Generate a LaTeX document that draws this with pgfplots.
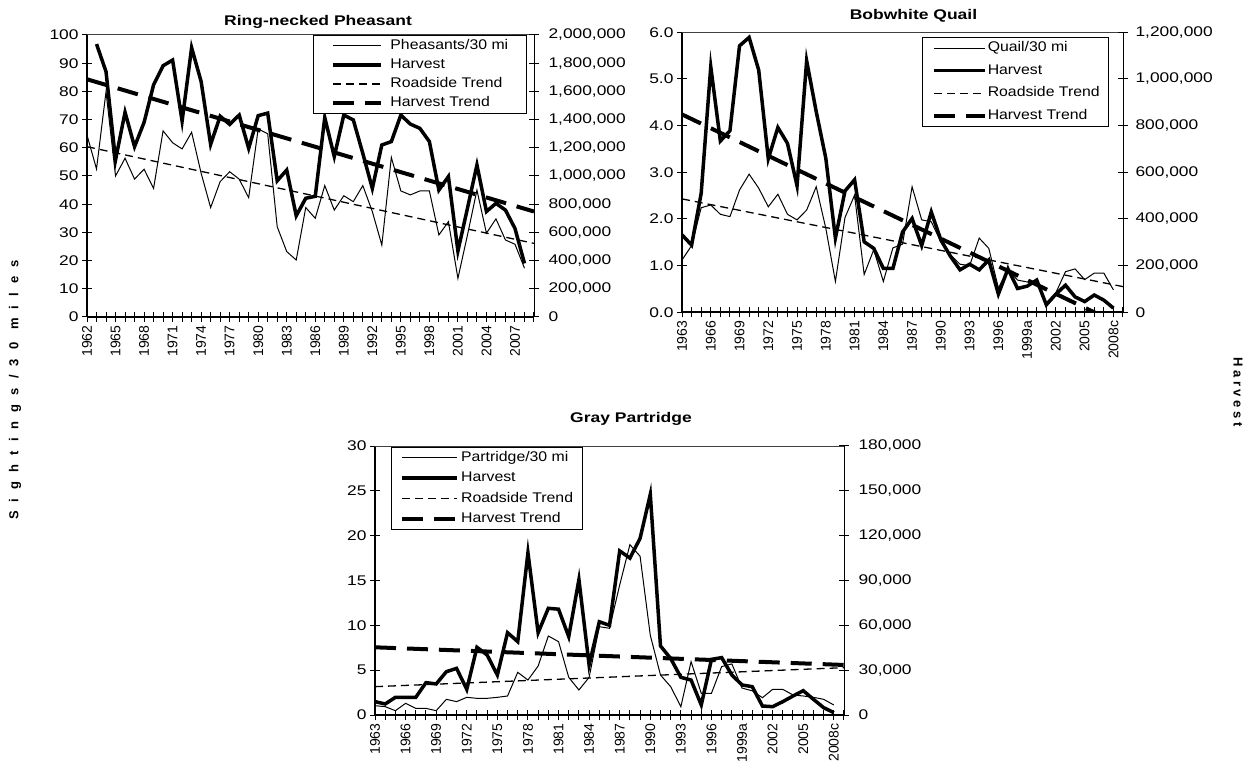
\documentclass[border=0pt]{standalone}
\usepackage{fontspec}
\setmainfont{Liberation Sans}
\newfontfamily\stf{Liberation Sans}[FakeStretch=1.13]
\newfontfamily\tkf{Liberation Sans}[FakeStretch=1.24]
\newfontfamily\stfb{Liberation Sans Bold}[FakeStretch=1.25]
\usepackage{pgfplots}
\usepackage{pgfplotstable}
\pgfplotsset{compat=1.18}
\newcommand\tf{\stf\fontsize{14}{16.8}\selectfont}
\newcommand\tkl{\tkf\fontsize{14}{16.8}\selectfont}
\newcommand\tfb{\stfb\fontsize{14}{16.8}\selectfont}

\pgfplotstableread{
year idx hv
1962 64.5 nan
1963 52.5 1936000
1964 79.9 1740000
1965 50.0 1114000
1966 56.3 1452000
1967 48.9 1208000
1968 52.4 1380000
1969 45.6 1646000
1970 66.0 1782000
1971 61.8 1822000
1972 59.6 1390000
1973 65.5 1910000
1974 51.0 1670000
1975 38.8 1224000
1976 48.0 1424000
1977 51.5 1366000
1978 48.9 1432000
1979 42.3 1196000
1980 66.7 1428000
1981 65.0 1446000
1982 32.0 966000
1983 23.2 1042000
1984 20.2 718000
1985 38.8 842000
1986 35.0 856000
1987 46.6 1414000
1988 37.9 1138000
1989 43.0 1432000
1990 40.9 1398000
1991 46.6 1160000
1992 37.4 912000
1993 25.5 1220000
1994 56.6 1244000
1995 44.7 1432000
1996 43.3 1368000
1997 44.7 1338000
1998 44.7 1244000
1999 29.1 900000
2000 33.8 996000
2001 13.7 468000
2002 29.0 770000
2003 45.0 1078000
2004 29.7 748000
2005 34.8 806000
2006 27.3 758000
2007 25.8 628000
2008 17.3 380000
}\pheas

\pgfplotstableread{
year idx hv
1963 1.12 332000
1964 1.43 288000
1965 2.24 510000
1966 2.30 1052000
1967 2.10 734000
1968 2.05 778000
1969 2.62 1142000
1970 2.96 1178000
1971 2.66 1038000
1972 2.26 658000
1973 2.53 792000
1974 2.10 724000
1975 1.98 542000
1976 2.19 1078000
1977 2.69 860000
1978 1.80 660000
1979 0.66 318000
1980 2.03 520000
1981 2.51 568000
1982 0.81 302000
1983 1.34 274000
1984 0.66 188000
1985 1.38 188000
1986 1.46 344000
1987 2.69 402000
1988 1.98 286000
1989 1.94 430000
1990 1.51 310000
1991 1.23 240000
1992 1.03 182000
1993 1.00 206000
1994 1.59 182000
1995 1.37 224000
1996 0.52 78000
1997 0.91 186000
1998 0.69 102000
1999 0.65 112000
2000 0.67 138000
2001 0.20 32000
2002 0.42 78000
2003 0.87 116000
2004 0.93 66000
2005 0.70 46000
2006 0.84 74000
2007 0.84 52000
2008 0.48 18000
}\quail

\pgfplotstableread{
year idx hv
1963 1.04 8940
1964 0.93 7380
1965 0.48 11820
1966 1.30 11820
1967 0.74 11820
1968 0.74 21660
1969 0.48 20760
1970 1.75 28980
1971 1.49 31200
1972 1.97 17160
1973 1.86 45300
1974 1.86 40140
1975 1.97 26760
1976 2.12 55080
1977 4.76 49080
1978 3.90 108600
1979 5.46 55080
1980 8.81 71400
1981 8.18 70800
1982 4.20 52440
1983 2.79 90600
1984 4.20 33480
1985 9.85 62400
1986 9.67 60000
1987 14.5 109800
1988 19.0 105000
1989 17.7 118200
1990 8.90 147600
1991 4.46 46200
1992 3.16 37800
1993 0.93 25200
1994 5.95 23400
1995 2.42 6720
1996 2.42 37200
1997 5.40 38400
1998 5.70 26760
1999 3.00 20100
2000 2.70 18960
2001 1.93 6000
2002 2.86 5580
2003 2.86 8940
2004 2.23 12720
2005 2.12 16260
2006 1.97 10500
2007 1.75 4920
2008 1.12 1560
}\partr

\pgfplotsset{
  idx/.style={black, line width=1pt},
  hv/.style={black, line width=3.5pt},
  rt/.style={black, line width=1.3pt, dash pattern=on 8pt off 5pt},
  ht/.style={black, line width=4pt, dash pattern=on 21pt off 11pt},
  base/.style={
    scale only axis, clip=true,
    tick align=center, major tick length=10pt, minor tick length=10pt,
    tick style={black, line width=1pt},
    /pgf/number format/assume math mode=true,
    tick label style={font=\tkl},
  },
  leftax/.style={base, axis x line=bottom, axis y line=left,
    axis line style={-, line width=2pt},
    xticklabel style={font=\fontsize{14}{16}\selectfont, rotate=90, anchor=east},
  },
  rightax/.style={base, axis x line=none, axis y line=right,
    axis line style={-, line width=1pt},
    scaled y ticks=false,
    yticklabel style={xshift=6pt, /pgf/number format/fixed,
      /pgf/number format/precision=0, /pgf/number format/1000 sep={,}},
    legend cell align=left,
  },
  leg/.style n args={5}{legend style={at={(#1,#2)}, anchor=north west,
      draw=black, line width=0.8pt, fill=white, font=\tf,
      inner xsep=#3, inner ysep=2pt, row sep=#4, column sep=#5,
      nodes={inner xsep=0pt, inner ysep=2pt, text height=10pt, text depth=3pt}}},
}

\begin{document}
\begin{tikzpicture}[x=1pt,y=1pt]
\path[use as bounding box] (0,0) rectangle (1249,776);

% ---------------- Panel 1: Ring-necked Pheasant
\begin{axis}[leftax, at={(87pt,459pt)}, anchor=south west, width=447pt, height=282pt,
  xmin=1962, xmax=2009, ymin=0, ymax=100, ytick={0,10,...,100},
  xtick={1962,1965,...,2007}, minor xtick={1962,...,2009},
  xticklabels={1962,1965,1968,1971,1974,1977,1980,1983,1986,1989,1992,1995,1998,2001,2004,2007}]
\draw[black!75, line width=1pt] (rel axis cs:0,1) -- (rel axis cs:1,1);
\addplot[idx] table[x=year,y=idx] {\pheas};
\addplot[rt] coordinates {(1962,60.4) (2009,26.1)};
\end{axis}
\begin{axis}[rightax, at={(87pt,459pt)}, anchor=south west, width=447pt, height=282pt,
  xmin=1962, xmax=2009, ymin=0, ymax=2000000,
  ytick={0,200000,400000,600000,800000,1000000,1200000,1400000,1600000,1800000,2000000},
  leg={0.5056}{1}{18pt}{2pt}{7pt},
  legend image code/.code={\draw[#1] (0pt,0pt) -- (48pt,0pt);}]
\addlegendimage{idx}\addlegendentry{Pheasants/30 mi}
\addplot[hv] table[x=year,y=hv] {\pheas};\addlegendentry{Harvest}
\addlegendimage{rt}\addlegendentry{Roadside Trend}
\addplot[ht] coordinates {(1962,1686000) (2009,748000)};\addlegendentry{Harvest Trend}
\end{axis}

% ---------------- Panel 2: Bobwhite Quail
\begin{axis}[leftax, at={(682pt,463.7pt)}, anchor=south west, width=441pt, height=280pt,
  xmin=1963, xmax=2009, ymin=0, ymax=6, ytick={0,1,...,6},
  yticklabel style={/pgf/number format/fixed, /pgf/number format/fixed zerofill,
    /pgf/number format/precision=1},
  xtick={1963,1966,...,2008}, minor xtick={1963,...,2009},
  xticklabels={1963,1966,1969,1972,1975,1978,1981,1984,1987,1990,1993,1996,1999a,2002,2005,2008c}]
\draw[black!75, line width=1pt] (rel axis cs:0,1) -- (rel axis cs:1,1);
\addplot[idx] table[x=year,y=idx] {\quail};
\addplot[rt] coordinates {(1963,2.43) (2009,0.55)};
\end{axis}
\begin{axis}[rightax, at={(682pt,463.7pt)}, anchor=south west, width=441pt, height=280pt,
  xmin=1963, xmax=2009, ymin=0, ymax=1200000,
  ytick={0,200000,400000,600000,800000,1000000,1200000},
  yticklabel style={xshift=-2pt},
  leg={0.545}{0.982}{9pt}{5.5pt}{1pt},
  legend image code/.code={\draw[#1] (0pt,0pt) -- (51pt,0pt);}]
\addlegendimage{idx}\addlegendentry{Quail/30 mi}
\addplot[hv] table[x=year,y=hv] {\quail};\addlegendentry{Harvest}
\addlegendimage{rt}\addlegendentry{Roadside Trend}
\addplot[ht] coordinates {(1963,848000) (2009,-59200)};\addlegendentry{Harvest Trend}
\end{axis}

% ---------------- Panel 3: Gray Partridge
\begin{axis}[leftax, at={(375pt,61pt)}, anchor=south west, width=469pt, height=269pt,
  xmin=1963, xmax=2009, ymin=0, ymax=30, ytick={0,5,...,30},
  xtick={1963,1966,...,2008}, minor xtick={1963,...,2009},
  xticklabels={1963,1966,1969,1972,1975,1978,1981,1984,1987,1990,1993,1996,1999a,2002,2005,2008c}]
\draw[black!75, line width=1pt] (rel axis cs:0,1) -- (rel axis cs:1,1);
\addplot[idx] table[x=year,y=idx] {\partr};
\addplot[rt] coordinates {(1963,3.16) (2009,5.28)};
\end{axis}
\begin{axis}[rightax, at={(375pt,61pt)}, anchor=south west, width=469pt, height=269pt,
  xmin=1963, xmax=2009, ymin=0, ymax=180000,
  ytick={0,30000,60000,90000,120000,150000,180000},
  leg={0.0335}{0.9974}{9pt}{3.6pt}{2pt},
  legend image code/.code={\draw[#1] (0pt,0pt) -- (55pt,0pt);}]
\addlegendimage{idx}\addlegendentry{Partridge/30 mi}
\addplot[hv] table[x=year,y=hv] {\partr};\addlegendentry{Harvest}
\addlegendimage{rt}\addlegendentry{Roadside Trend}
\addplot[ht] coordinates {(1963,45300) (2009,33480)};\addlegendentry{Harvest Trend}
\end{axis}

% ---------------- titles and axis titles
\node[font=\tfb, anchor=base] at (318,750) {Ring-necked Pheasant};
\node[font=\tfb, anchor=base] at (913.5,756) {Bobwhite Quail};
\node[font=\tfb, anchor=base] at (631,353) {Gray Partridge};
\node[font=\fontsize{13}{15}\selectfont\bfseries\addfontfeature{LetterSpace=70}, rotate=90] at (15,386) {Sightings/30 miles};
\node[font=\fontsize{13}{15}\selectfont\bfseries\addfontfeature{LetterSpace=27}, rotate=-90] at (1238,384) {Harvest};
\end{tikzpicture}
\end{document}
